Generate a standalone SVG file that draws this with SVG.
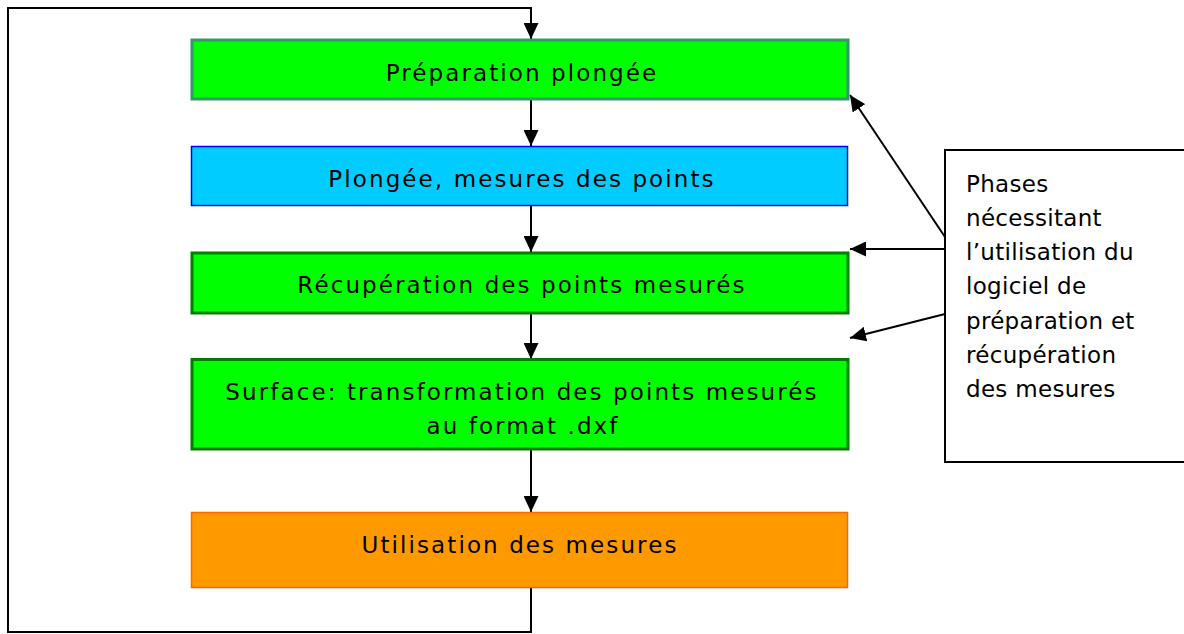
<svg xmlns="http://www.w3.org/2000/svg" width="1184" height="634" viewBox="0 0 1184 634">
<defs>
<marker id="ah" viewBox="0 0 16 15" refX="16" refY="7.5" markerWidth="16" markerHeight="15" markerUnits="userSpaceOnUse" orient="auto">
<path d="M0,0 L16,7.5 L0,15 Z" fill="#000"/>
</marker>
</defs>
<style>
.t{font-family:"DejaVu Sans",Verdana,sans-serif;font-size:23px;letter-spacing:2.1px;fill:#000;text-anchor:middle}
.c{font-family:"DejaVu Sans",Verdana,sans-serif;font-size:23px;letter-spacing:0.3px;fill:#000}
.ln{fill:none;stroke:#000;stroke-width:2}
</style>
<rect width="1184" height="634" fill="#fff"/>
<g id="connectors">
<polyline class="ln" points="531,588 531,632 8,632 8,8 531,8 531,39" marker-end="url(#ah)"/>
<line class="ln" x1="531" y1="100" x2="531" y2="146" marker-end="url(#ah)"/>
<line class="ln" x1="531" y1="206" x2="531" y2="252" marker-end="url(#ah)"/>
<line class="ln" x1="531" y1="314" x2="531" y2="359" marker-end="url(#ah)"/>
<line class="ln" x1="531" y1="450" x2="531" y2="512" marker-end="url(#ah)"/>
<line class="ln" x1="945" y1="237" x2="850" y2="95" marker-end="url(#ah)"/>
<line class="ln" x1="945" y1="249" x2="850" y2="249" marker-end="url(#ah)"/>
<line class="ln" x1="945" y1="314" x2="850" y2="338" marker-end="url(#ah)"/>
</g>
<g id="n1">
<rect x="192" y="40" width="656" height="59" fill="#00ff00" stroke="#339966" stroke-width="3"/>
<text class="t" x="522" y="81">Préparation plongée</text>
</g>
<g id="n2">
<rect x="191.5" y="146.5" width="656" height="59" fill="#00ccff" stroke="#0000ff" stroke-width="1.5"/>
<text class="t" x="522" y="187">Plongée, mesures des points</text>
</g>
<g id="n3">
<rect x="192" y="253" width="656" height="60" fill="#00ff00" stroke="#008000" stroke-width="3"/>
<text class="t" x="522" y="293">Récupération des points mesurés</text>
</g>
<g id="n4">
<rect x="192" y="359.5" width="656" height="89.5" fill="#00ff00" stroke="#008000" stroke-width="3"/>
<text class="t" x="522" y="400">Surface: transformation des points mesurés</text>
<text class="t" x="523" y="434">au format .dxf</text>
</g>
<g id="n5">
<rect x="191.5" y="512.5" width="656" height="75" fill="#ff9900" stroke="#ff6600" stroke-width="1.5"/>
<text class="t" x="520" y="553">Utilisation des mesures</text>
</g>
<g id="callout">
<rect x="945" y="150" width="260" height="312" fill="#fff" stroke="#000" stroke-width="2"/>
<text class="c" x="966" y="192">Phases</text>
<text class="c" x="966" y="226">nécessitant</text>
<text class="c" x="966" y="260">l’utilisation du</text>
<text class="c" x="966" y="294">logiciel de</text>
<text class="c" x="966" y="329">préparation et</text>
<text class="c" x="966" y="363">récupération</text>
<text class="c" x="966" y="397">des mesures</text>
</g>
</svg>
